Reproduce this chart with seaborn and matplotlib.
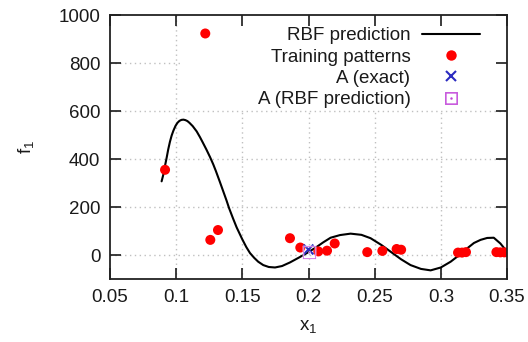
import matplotlib
matplotlib.use("Agg")
import matplotlib.pyplot as plt
from matplotlib.patches import Rectangle
from matplotlib.lines import Line2D
import seaborn as sns
import pandas as pd

# RBF prediction curve
curve_x = [0.0890, 0.0903, 0.0915, 0.0928, 0.0940, 0.0953, 0.0966, 0.0979, 0.0995, 0.1010,
           0.1025, 0.1040, 0.1055, 0.1070, 0.1085, 0.1100, 0.1125, 0.1155, 0.1180, 0.1200,
           0.1228, 0.1256, 0.1280, 0.1300, 0.1330, 0.1356, 0.1380, 0.1400, 0.1430, 0.1457,
           0.1500, 0.1530, 0.1558, 0.1590, 0.1620, 0.1658, 0.1700, 0.1747, 0.1800, 0.1860,
           0.1930, 0.2000, 0.2060, 0.2112, 0.2167, 0.2238, 0.2318, 0.2400, 0.2469, 0.2550,
           0.2620, 0.2700, 0.2771, 0.2850, 0.2923, 0.3000, 0.3074, 0.3140, 0.3200, 0.3250,
           0.3300, 0.3350, 0.3400, 0.3450, 0.3500]
curve_y = [307, 335, 370, 405, 440, 472, 498, 518, 538, 551,
           559, 563, 564, 562, 558, 551, 537, 515, 491, 470,
           440, 408, 378, 350, 305, 265, 228, 195, 152, 115,
           65, 33, 8, -12, -28, -42, -50, -52, -46, -31,
           -10, 12, 33, 53, 72, 83, 89, 84, 70, 42,
           14, -18, -42, -58, -64, -52, -28, 0, 28, 50,
           63, 71, 72, 48, 14]

# Training patterns
train_x = [0.0916, 0.122, 0.1258, 0.1316, 0.186, 0.1938, 0.2074, 0.214, 0.2198, 0.2444,
           0.2558, 0.2666, 0.270, 0.313, 0.316, 0.319, 0.342, 0.345, 0.348]
train_y = [355, 923, 63, 104, 70, 31, 15, 18, 48, 12,
           17, 25, 22, 10, 10, 12, 12, 11, 11]

# Point A
a_exact_x = [0.1995]
a_exact_y = [26]
a_rbf_x = [0.2000]
a_rbf_y = [12]

x_ticks = [0.05, 0.1, 0.15, 0.2, 0.25, 0.3, 0.35]
x_ticklabels = ["0.05", "0.1", "0.15", "0.2", "0.25", "0.3", "0.35"]
y_ticks = [0, 200, 400, 600, 800, 1000]

sns.set_theme(style="ticks")
plt.rcParams['font.family'] = ['Liberation Sans', 'DejaVu Sans']
plt.rcParams['mathtext.fontset'] = 'custom'
plt.rcParams['mathtext.rm'] = 'Liberation Sans'
plt.rcParams['mathtext.it'] = 'Liberation Sans'

FS = 13.5
TXT = "#1a1a1a"
fig = plt.figure(figsize=(5.28, 3.42), dpi=100)
ax = fig.add_axes([110/528, 1 - 279/342, 397/528, 264/342])

curve_df = pd.DataFrame({"x": curve_x, "y": curve_y})
train_df = pd.DataFrame({"x": train_x, "y": train_y})

sns.lineplot(data=curve_df, x="x", y="y", ax=ax, color="black", lw=1.5, sort=False, zorder=3)
sns.scatterplot(data=train_df, x="x", y="y", ax=ax, color="#ff0000", s=52, edgecolor="none", zorder=4)
sns.scatterplot(x=a_exact_x, y=a_exact_y, ax=ax, marker="x", color="#2b2bc0", s=50, linewidth=1.5, zorder=5)
sns.scatterplot(x=a_rbf_x, y=a_rbf_y, ax=ax, marker="$\\boxdot$", color="#c040d8", s=90, linewidth=0.3, zorder=6)

ax.set_xlim(0.05, 0.35)
ax.set_ylim(-100, 1000)
ax.set_xticks(x_ticks)
ax.set_xticklabels(x_ticklabels)
ax.set_yticks(y_ticks)
ax.grid(False)
ax.set_axisbelow(False)

# dotted grid drawn at the tick positions, below a white legend box
grid_kw = dict(color="#c0c0c0", linestyle=(0, (1, 2.5)), linewidth=1.0, zorder=0.8)
for xv in x_ticks[1:-1]:
    ax.axvline(xv, **grid_kw)
for yv in y_ticks[:-1]:
    ax.axhline(yv, **grid_kw)
ax.add_patch(Rectangle((0.1052, 603), 0.35 - 0.1052, 397, facecolor="white",
                       edgecolor="none", zorder=1))

ax.tick_params(direction="in", length=8, width=1.2, top=True, right=True,
               bottom=True, left=True,
               labelsize=FS, pad=7, colors=TXT, labelcolor=TXT)
for s in ax.spines.values():
    s.set_visible(True)
    s.set_linewidth(1.3)
    s.set_color("#222222")
    s.set_zorder(7)

ax.set_xlabel("x$_1$", fontsize=FS, color=TXT, labelpad=9)
ax.set_ylabel("f$_1$", fontsize=FS, color=TXT, labelpad=16)

handles = [
    Line2D([], [], color="black", lw=1.5),
    Line2D([], [], color="#ff0000", marker="o", ls="none", markersize=7.5, markeredgewidth=0),
    Line2D([], [], color="#2b2bc0", marker="x", ls="none", markersize=7, markeredgewidth=1.5),
    Line2D([], [], color="#c040d8", marker="$\\boxdot$", ls="none", markersize=9, markeredgewidth=0.3),
]
labels = ["RBF prediction", "Training patterns", "A (exact)", "A (RBF prediction)"]
leg = ax.legend(handles, labels, loc="upper right", frameon=False, markerfirst=False,
                fontsize=FS, handlelength=3.1, handletextpad=0.6, labelspacing=0.23,
                borderaxespad=0.2, borderpad=0.3, bbox_to_anchor=(0.955, 0.99))
for t in leg.get_texts():
    t.set_color(TXT)

fig.savefig("out.png", dpi=100)
